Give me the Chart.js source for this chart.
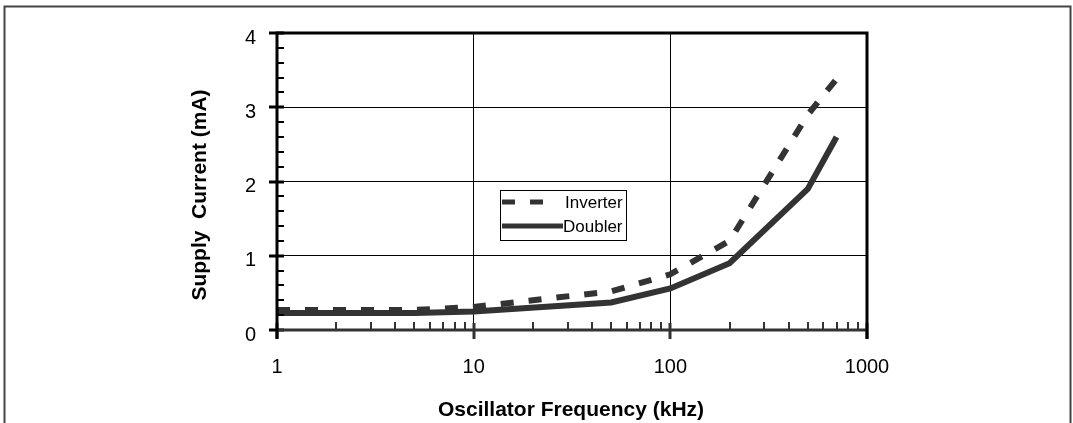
<!DOCTYPE html>
<html>
<head>
<meta charset="utf-8">
<script src="https://cdn.jsdelivr.net/npm/chart.js@4/dist/chart.umd.min.js"></script>
<style>
  body { margin: 0; background: #fff; }
  #wrap { position: relative; width: 1073px; height: 423px; }
</style>
</head>
<body>
<div id="wrap"><canvas id="chart"></canvas></div>
<script>
// values
const freqs = [1, 5, 10, 50, 100, 200, 500, 700];
const inverter = [0.27, 0.27, 0.31, 0.52, 0.75, 1.2, 2.9, 3.38];
const doubler = [0.23, 0.23, 0.25, 0.37, 0.56, 0.9, 1.9, 2.6];
const xTicks = [1, 10, 100, 1000];
const xMinor = [2, 3, 4, 5, 6, 7, 8, 9, 20, 30, 40, 50, 60, 70, 80, 90, 200, 300, 400, 500, 600, 700, 800, 900];
const yTicks = [0, 1, 2, 3, 4];

const pts = arr => freqs.map((f, i) => ({x: f, y: arr[i]}));

// axes, tick marks, frame and legend
const decor = {
  id: "decor",
  afterDatasetsDraw(chart) {
    const ctx = chart.ctx;
    const a = chart.chartArea;
    const xs = chart.scales.x, ys = chart.scales.y;
    ctx.save();

    // outer frame
    ctx.strokeStyle = "#444";
    ctx.lineWidth = 2;
    ctx.strokeRect(4.5, 6.5, 1066, 430);

    // minor ticks
    ctx.lineWidth = 2;
    ctx.strokeStyle = "#333";
    xMinor.forEach(v => {
      const px = Math.round(xs.getPixelForValue(v));
      ctx.beginPath(); ctx.moveTo(px, a.bottom); ctx.lineTo(px, a.bottom - 8); ctx.stroke();
    });
    ctx.strokeStyle = "#000";
    for (let v = 0.2; v < 4; v += 0.2) {
      const py = Math.round(ys.getPixelForValue(v));
      ctx.beginPath(); ctx.moveTo(a.left, py); ctx.lineTo(a.left + 7, py); ctx.stroke();
    }

    // major ticks
    ctx.lineWidth = 3;
    ctx.strokeStyle = "#333";
    xTicks.forEach(v => {
      const px = Math.round(xs.getPixelForValue(v));
      ctx.beginPath(); ctx.moveTo(px, a.bottom - 7); ctx.lineTo(px, a.bottom + 9); ctx.stroke();
    });
    ctx.strokeStyle = "#000";
    yTicks.forEach(v => {
      const py = Math.round(ys.getPixelForValue(v));
      ctx.beginPath(); ctx.moveTo(a.left - 8, py); ctx.lineTo(a.left + 7, py); ctx.stroke();
    });

    // bottom axis
    ctx.strokeStyle = "#333";
    ctx.beginPath(); ctx.moveTo(a.left, a.bottom); ctx.lineTo(a.right, a.bottom); ctx.stroke();
    // top, right, left border
    ctx.strokeStyle = "#000";
    ctx.beginPath();
    ctx.moveTo(a.left, a.bottom + 9);
    ctx.lineTo(a.left, a.top);
    ctx.lineTo(a.right, a.top);
    ctx.lineTo(a.right, a.bottom + 9);
    ctx.stroke();

    // axis titles
    ctx.fillStyle = "#000";
    ctx.font = "bold 21px Arial, 'Liberation Sans'";
    ctx.textAlign = "center";
    ctx.textBaseline = "middle";
    ctx.fillText("Oscillator Frequency (kHz)", 571, 410);
    ctx.translate(200, 195);
    ctx.rotate(-Math.PI / 2);
    ctx.fillText("Supply  Current (mA)", 0, 0);
    ctx.setTransform(1, 0, 0, 1, 0, 0);
    ctx.restore();

    // legend box
    ctx.save();
    ctx.fillStyle = "#fff";
    ctx.fillRect(500, 190, 126, 50);
    ctx.strokeStyle = "#000";
    ctx.lineWidth = 1;
    ctx.strokeRect(500.5, 190.5, 126, 50);
    chart.data.datasets.forEach((ds, i) => {
      const y = 202 + i * 24;
      ctx.strokeStyle = ds.borderColor;
      ctx.lineWidth = 5;
      ctx.setLineDash(ds.borderDash || []);
      ctx.beginPath(); ctx.moveTo(502, y); ctx.lineTo(i === 0 ? 555 : 563, y); ctx.stroke();
      ctx.setLineDash([]);
      ctx.fillStyle = "#000";
      ctx.font = "17px 'Liberation Sans Narrow', Arial";
      ctx.textAlign = "left";
      ctx.textBaseline = "middle";
      ctx.fillText(ds.label, i === 0 ? 565 : 563, y + 1);
    });
    ctx.restore();
  }
};

new Chart(document.getElementById("chart"), {
  type: "line",
  data: {
    datasets: [
      {label: "Inverter", data: pts(inverter), borderColor: "#333", borderWidth: 6, borderDash: [13, 15], pointRadius: 0, tension: 0},
      {label: "Doubler", data: pts(doubler), borderColor: "#333", borderWidth: 6, pointRadius: 0, tension: 0}
    ]
  },
  options: {
    responsive: true,
    maintainAspectRatio: false,
    animation: false,
    layout: {padding: {top: 31, right: 206, left: 0, bottom: 0}},
    plugins: {legend: {display: false}, tooltip: {enabled: false}},
    scales: {
      x: {
        type: "logarithmic",
        min: 1,
        max: 1000,
        afterBuildTicks: s => { s.ticks = xTicks.map(v => ({value: v})); },
        afterFit: s => { s.height = 93; },
        ticks: {color: "#000", font: {family: "Arial, 'Liberation Sans'", size: 20}, padding: 25, maxRotation: 0,
          callback: v => String(v)},
        grid: {drawTicks: false, lineWidth: 1, color: c => (c.tick && (c.tick.value === 10 || c.tick.value === 100)) ? "#000" : "transparent"},
        border: {display: false}
      },
      y: {
        min: 0,
        max: 4,
        afterBuildTicks: s => { s.ticks = yTicks.map(v => ({value: v})); },
        afterFit: s => { s.width = 277; },
        ticks: {color: "#000", font: {family: "Arial, 'Liberation Sans'", size: 20}, padding: 21, labelOffset: 5},
        grid: {drawTicks: false, lineWidth: 1, color: c => (c.tick && c.tick.value > 0 && c.tick.value < 4) ? "#000" : "transparent"},
        border: {display: false}
      }
    }
  },
  plugins: [decor]
});
</script>
</body>
</html>
